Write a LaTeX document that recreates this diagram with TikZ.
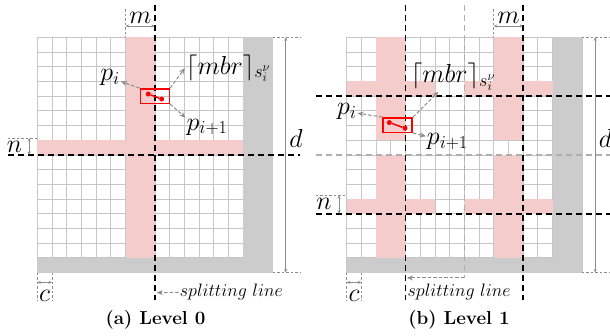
\documentclass[tikz,border=0pt]{standalone}
\usepackage{fix-cm}
\usetikzlibrary{arrows.meta}
\definecolor{cutpink}{RGB}{244,204,204}
\definecolor{padgray}{RGB}{204,204,204}
\definecolor{linegray}{RGB}{198,198,198}
\definecolor{arrowgray}{RGB}{140,140,140}
\definecolor{oldgray}{RGB}{175,175,175}
\tikzset{
  gridline/.style={draw=linegray, line width=0.8pt},
  padfill/.style={fill=padgray},
  cutfill/.style={fill=cutpink},
  splitline/.style={black, line width=1.6pt, dash pattern=on 6pt off 4pt},
  oldsplit/.style={oldgray, line width=1.6pt, dash pattern=on 6pt off 4pt},
  tickline/.style={arrowgray, line width=0.6pt, dash pattern=on 2.5pt off 2pt},
  dimarrow/.style={arrowgray, line width=0.6pt,
                   {Stealth[length=3.5pt,width=3pt]}-{Stealth[length=3.5pt,width=3pt]}},
  labelarrow/.style={arrowgray, line width=1pt, dash pattern=on 3.5pt off 2pt,
                     -{Stealth[length=6pt,width=5pt]}},
  mbrbox/.style={draw=red, line width=1.5pt, minimum width=29pt,
                 minimum height=14.5pt, inner sep=0pt},
  ptdot/.style={circle, fill=red, minimum size=5pt, inner sep=0pt},
  segline/.style={red, line width=1.5pt},
  mathlabel/.style={font=\fontsize{26}{30}\selectfont, inner sep=1pt},
  splitlabel/.style={font=\fontsize{18}{21}\selectfont, inner sep=1pt},
  captionlabel/.style={font=\fontsize{18.8}{22}\selectfont\bfseries}
}

\begin{document}
\begin{tikzpicture}[x=1pt, y=-1pt]
  \useasboundingbox (0,0) rectangle (610,335);

  % (a) level 0
  \begin{scope}[shift={(37.3,37.3)}, x=14.7pt, y=-14.7pt]
    \foreach \k in {0,...,16} {
      \draw[gridline] (\k,0) -- (\k,16);
      \draw[gridline] (0,\k) -- (16,\k);
    }
    \fill[padfill] (14,0) rectangle (16,16);
    \fill[padfill] (0,15) rectangle (14,16);
    \fill[cutfill] (6,0) rectangle (8,15);
    \fill[cutfill] (0,7) rectangle (14,8);

    \draw[splitline] (8,-2.2) -- (8,17.9);
    \draw[splitline] (-2,8) -- (17.9,8);

    % dimensions
    \draw[tickline] (6,-1.9) -- (6,0);
    \coordinate (aMa) at (6,-0.77);
    \coordinate (aMb) at (8,-0.77);
    \draw[dimarrow] (aMa) -- (aMb);
    \node[mathlabel] (aMlab) at (7,-1.3) {$m$};

    \draw[tickline] (16,0) -- (17.9,0);
    \draw[tickline] (16,16) -- (17.9,16);
    \coordinate (aDa) at (16.9,0);
    \coordinate (aDb) at (16.9,16);
    \draw[dimarrow] (aDa) -- (aDb);
    \node[mathlabel] (aDlab) at (17.6,6.9) {$d$};

    \draw[tickline] (-2,6.85) -- (0,6.85);
    \coordinate (aNa) at (-0.55,6.85);
    \coordinate (aNb) at (-0.55,8);
    \draw[dimarrow] (aNa) -- (aNb);
    \node[mathlabel] (aNlab) at (-1.55,7.45) {$n$};

    \draw[tickline] (0,16) -- (0,17.9);
    \draw[tickline] (1,16) -- (1,17.9);
    \coordinate (aCa) at (0,16.67);
    \coordinate (aCb) at (1,16.67);
    \draw[dimarrow] (aCa) -- (aCb);
    \node[mathlabel] (aClab) at (0.5,17.6) {$c$};

    \node[splitlabel] (aSplit) at (13.2,17.35) {$splitting\ line$};
    \coordinate (aSplitEnd) at (8.12,17.37);
    \draw[labelarrow] (aSplit.west) -- (aSplitEnd);

    % segment and its box
    \node[mbrbox] (aBox) at (8,4) {};
    \node[ptdot] (aP1) at (7.55,3.86) {};
    \node[ptdot] (aP2) at (8.46,4.2) {};
    \draw[segline] (aP1) -- (aP2);

    \node[mathlabel] (aPi) at (4.95,2.75) {$p_i$};
    \node[mathlabel] (aMbr) at (13.0,2.1) {$\lceil mbr\rceil_{s_i^{\nu}}$};
    \node[mathlabel] (aPn) at (11.55,6.1) {$p_{i+1}$};
    \draw[labelarrow] (aBox.north west) -- (aPi);
    \draw[labelarrow] (aBox.north east) -- (aMbr.west);
    \draw[labelarrow] (aBox.south east) -- (aPn.north west);
  \end{scope}

  % (b) level 1
  \begin{scope}[shift={(346.7,37.3)}, x=14.7pt, y=-14.7pt]
    \foreach \k in {0,...,16} {
      \draw[gridline] (\k,0) -- (\k,16);
      \draw[gridline] (0,\k) -- (16,\k);
    }
    \fill[padfill] (14,0) rectangle (16,16);
    \fill[padfill] (0,15) rectangle (14,16);
    \foreach \c in {2,10} {
      \fill[cutfill] (\c,0) rectangle (\c+2,7);
      \fill[cutfill] (\c,8) rectangle (\c+2,15);
    }
    \foreach \r in {3,11} {
      \fill[cutfill] (0,\r) rectangle (6,\r+1);
      \fill[cutfill] (8,\r) rectangle (14,\r+1);
    }

    \coordinate (bOld) at (8,16.37);
    \coordinate (bNew) at (4.1,16.37);
    \draw[oldsplit] (8,-2.2) -- (bOld);
    \draw[oldsplit] (-2.1,8) -- (17.9,8);
    \draw[splitline] (4,-2.2) -- (4,17.9);
    \draw[splitline] (12,-2.2) -- (12,17.9);
    \draw[splitline] (-2.1,4) -- (17.9,4);
    \draw[splitline] (-2.1,12) -- (17.9,12);
    \draw[labelarrow] (bOld) -- (bNew);

    % dimensions
    \draw[tickline] (10,-1.9) -- (10,0);
    \coordinate (bMa) at (10,-0.77);
    \coordinate (bMb) at (12,-0.77);
    \draw[dimarrow] (bMa) -- (bMb);
    \node[mathlabel] (bMlab) at (11,-1.3) {$m$};

    \draw[tickline] (16,0) -- (17.9,0);
    \draw[tickline] (16,16) -- (17.9,16);
    \coordinate (bDa) at (16.9,0);
    \coordinate (bDb) at (16.9,16);
    \draw[dimarrow] (bDa) -- (bDb);
    \node[mathlabel] (bDlab) at (17.6,6.9) {$d$};

    \draw[tickline] (-2.1,10.75) -- (0,10.75);
    \coordinate (bNa) at (-0.52,10.75);
    \coordinate (bNb) at (-0.52,12);
    \draw[dimarrow] (bNa) -- (bNb);
    \node[mathlabel] (bNlab) at (-1.55,11.3) {$n$};

    \draw[tickline] (0,16) -- (0,17.9);
    \draw[tickline] (1,16) -- (1,17.9);
    \coordinate (bCa) at (0,16.67);
    \coordinate (bCb) at (1,16.67);
    \draw[dimarrow] (bCa) -- (bCb);
    \node[mathlabel] (bClab) at (0.5,17.6) {$c$};

    \node[splitlabel] (bSplit) at (7.65,17.35) {$splitting\ line$};

    % segment and its box
    \node[mbrbox] (bBox) at (3.47,5.97) {};
    \node[ptdot] (bP1) at (2.9,5.8) {};
    \node[ptdot] (bP2) at (3.97,6.18) {};
    \draw[segline] (bP1) -- (bP2);

    \node[mathlabel] (bPi) at (0,5.05) {$p_i$};
    \node[mathlabel] (bMbr) at (7.25,2.7) {$\lceil mbr\rceil_{s_i^{\nu}}$};
    \node[mathlabel] (bPn) at (6.85,7.1) {$p_{i+1}$};
    \draw[labelarrow] (bBox.north west) -- (bPi);
    \draw[labelarrow] (bBox.north east) -- (bMbr);
    \draw[labelarrow] (bBox.south east) -- (bPn);
  \end{scope}

  \node[captionlabel] (capA) at (155.5,320) {(a) Level 0};
  \node[captionlabel] (capB) at (459,320) {(b) Level 1};
\end{tikzpicture}
\end{document}
